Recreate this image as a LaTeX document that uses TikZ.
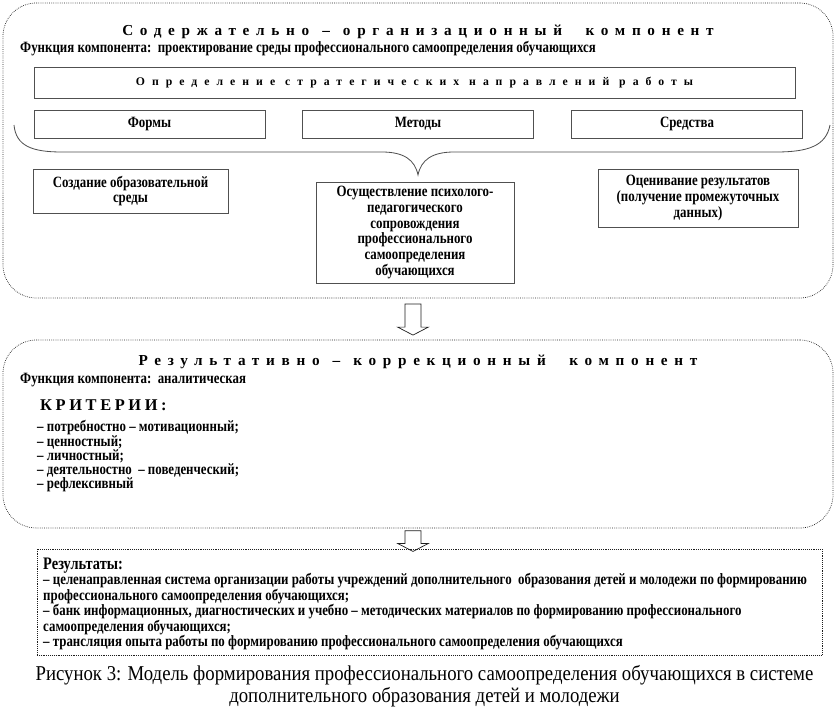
\documentclass[tikz,border=0pt]{standalone}
\usepackage{fontspec}
\setmainfont{Liberation Serif}
\newfontfamily\narrowfont[FakeStretch=0.82]{Liberation Serif}
\newfontfamily\captionfont[FakeStretch=0.89]{Liberation Serif}
\newfontfamily\titlefont[LetterSpace=44]{Liberation Serif}
\newfontfamily\stratfont[LetterSpace=60]{Liberation Serif}
\newfontfamily\critfont[LetterSpace=22]{Liberation Serif}
\usetikzlibrary{shapes.arrows}
\definecolor{frameline}{RGB}{30,30,30}
\definecolor{boxline}{RGB}{80,80,80}

\begin{document}
\begin{tikzpicture}[x=0.03cm, y=-0.03cm,
  panel/.style={draw=frameline, densely dotted, line width=0.6pt, rounded corners=1cm, inner sep=0pt},
  stagebox/.style={draw=boxline, line width=0.7pt, align=center, inner sep=0pt,
    font=\narrowfont\bfseries\fontsize{13.4}{13.5}\selectfont},
  heading/.style={font=\titlefont\bfseries\fontsize{13}{15}\selectfont, inner sep=0pt},
  textline/.style={anchor=west, inner sep=0pt, font=\narrowfont\bfseries\fontsize{13.4}{14}\selectfont},
  downarrow/.style={draw=frameline, line width=0.6pt, fill=white, single arrow, rotate=-90,
    single arrow head extend=0.22cm, single arrow tip angle=125, inner xsep=0pt, inner ysep=0.23cm}]
  \useasboundingbox (0,0) rectangle (840,723);

  % content component
  \node[panel, minimum width=24.9cm, minimum height=8.85cm] (contentpanel) at (418,150.5) {};
  \node[heading] (contenttitle) at (418,32) {Содержательно \,–\, организационный \, компонент};
  \node[textline] (contentfunc) at (20,49) {Функция компонента:\ \ проектирование среды профессионального самоопределения обучающихся};
  \node[stagebox, minimum width=22.83cm, minimum height=0.93cm, font=\stratfont\bfseries\fontsize{10}{12}\selectfont] (strategy) at (414.5,82.5) {Определение стратегических направлений работы};
  \foreach \name/\lbl/\xc in {forms/Формы/149.5, methods/Методы/418, means/Средства/687}
    \node[stagebox, minimum width=6.93cm, minimum height=0.84cm] (\name) at (\xc,124) {\lbl};

  % brace under the three boxes
  \draw[boxline, line width=0.7pt] (14,125) .. controls (16,146) and (32,152) .. (62,152) -- (382,152)
    .. controls (404,152) and (415,160) .. (418,175) .. controls (421,160) and (432,152) .. (454,152)
    -- (776,152) .. controls (808,152) and (826,146) .. (830,125);

  \node[stagebox, minimum width=5.85cm, minimum height=1.32cm] (environment) at (130.5,191) {Создание образовательной\\среды};
  \node[stagebox, minimum width=5.94cm, minimum height=3.03cm] (support) at (415,232.5) {Осуществление психолого-\\педагогического\\сопровождения\\профессионального\\самоопределения\\обучающихся};
  \node[stagebox, minimum width=6.0cm, minimum height=1.74cm] (assessment) at (698,198) {Оценивание результатов\\(получение промежуточных\\данных)};

  \node[downarrow, minimum height=0.93cm] (arrowone) at (413,317.5) {};

  % result component
  \node[panel, minimum width=24.9cm, minimum height=5.64cm] (resultpanel) at (418,434) {};
  \node[heading] (resulttitle) at (418,362) {Результативно \,–\, коррекционный \, компонент};
  \node[textline] (resultfunc) at (20,380) {Функция компонента:\ \ аналитическая};
  \node[anchor=west, inner sep=0pt, font=\critfont\bfseries\fontsize{14}{16}\selectfont] (criteria) at (40,405) {КРИТЕРИИ:};
  \foreach \txt [count=\i] in {потребностно – мотивационный;, ценностный;, личностный;, деятельностно \ – поведенческий;, рефлексивный}
    \node[textline] (crit\i) at (37,{428+14.2*(\i-1)}) {– \txt};

  \node[downarrow, minimum height=0.62cm] (arrowtwo) at (413,539) {};

  % results
  \node[draw=frameline, densely dotted, line width=0.6pt, minimum width=23.55cm, minimum height=3.18cm, inner sep=0pt] (results) at (429.5,602) {};
  \node[textline, font=\narrowfont\bfseries\fontsize{15}{16}\selectfont] (resultshead) at (43,566) {Результаты:};
  \foreach \txt [count=\i] in {– целенаправленная система организации работы учреждений дополнительного \ образования детей и молодежи по формированию,
      профессионального самоопределения обучающихся;,
      {– банк информационных, диагностических и учебно – методических материалов по формированию профессионального},
      самоопределения обучающихся;,
      – трансляция опыта работы по формированию профессионального самоопределения обучающихся}
    \node[textline] (res\i) at (43,{581+15.5*(\i-1)}) {\txt};

  \node[font=\captionfont\fontsize{18}{18.7}\selectfont, align=center, inner sep=0pt] (caption) at (424.5,686) {Рисунок 3: Модель формирования профессионального самоопределения обучающихся в системе\\дополнительного образования детей и молодежи};
\end{tikzpicture}
\end{document}
